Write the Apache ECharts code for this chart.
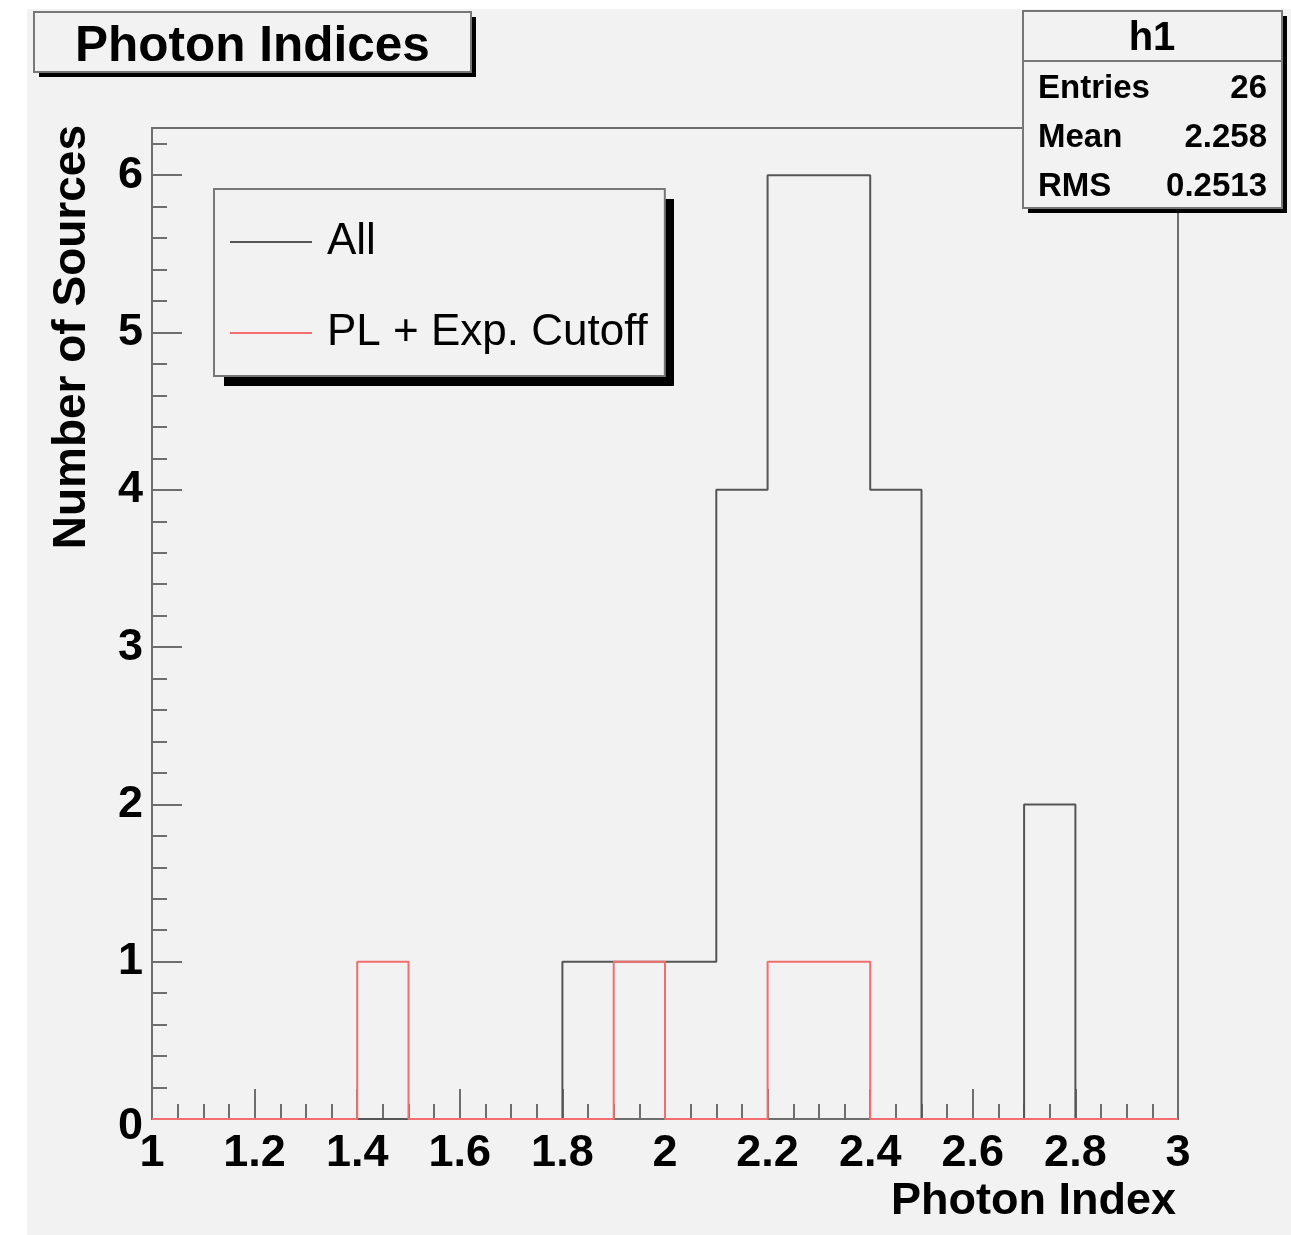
<!DOCTYPE html>
<html>
<head>
<meta charset="utf-8">
<script src="https://cdn.jsdelivr.net/npm/echarts@6/dist/echarts.min.js"></script>
<style>
  html, body { margin: 0; padding: 0; background: #ffffff; }
  #chart { width: 1291px; height: 1235px; }
</style>
</head>
<body>
<div id="chart"></div>
<script>
// Histogram bin edges (20 bins of width 0.1 between 1 and 3)
const binEdges = [1.0, 1.1, 1.2, 1.3, 1.4, 1.5, 1.6, 1.7, 1.8, 1.9, 2.0,
                  2.1, 2.2, 2.3, 2.4, 2.5, 2.6, 2.7, 2.8, 2.9, 3.0];
// Counts per bin
const countsAll    = [0, 0, 0, 0, 0, 0, 0, 0, 1, 1, 1, 4, 6, 6, 4, 0, 0, 2, 0, 0];
const countsCutoff = [0, 0, 0, 0, 1, 0, 0, 0, 0, 1, 0, 0, 1, 1, 0, 0, 0, 0, 0, 0];
const seriesNames  = ['All', 'PL + Exp. Cutoff'];
// Statistics box
const statsTitle  = 'h1';
const statsLabels = ['Entries', 'Mean', 'RMS'];
const statsValues = ['26', '2.258', '0.2513'];
const chartTitle  = 'Photon Indices';
const xTitle = 'Photon Index';
const yTitle = 'Number of Sources';

const FONT = "'Liberation Sans', Arial, Helvetica, sans-serif";
const FRAME = '#6e6e6e';
const BOXLINE = '#777777';
const BG = '#f2f2f2';

// Step outline of a histogram: one point per bin low edge, closed at the last edge
function stepOutline(edges, counts) {
  const pts = counts.map((c, i) => [edges[i], c]);
  pts.push([edges[edges.length - 1], counts[counts.length - 1]]);
  return pts;
}

const chart = echarts.init(document.getElementById('chart'), null, { renderer: 'canvas' });

// Statistics box (drawn above the frame)
const statsRowsY = [89, 138, 187];
const statsGraphics = [
  { type: 'rect', shape: { x: 1028, y: 16, width: 259, height: 197 }, style: { fill: '#000' }, z: 100 },
  { type: 'rect', shape: { x: 1023, y: 11, width: 259, height: 197 }, style: { fill: BG, stroke: BOXLINE, lineWidth: 2 }, z: 101 },
  { type: 'line', shape: { x1: 1023, y1: 61, x2: 1282, y2: 61 }, style: { stroke: BOXLINE, lineWidth: 2 }, z: 102 },
  { type: 'text', x: 1152, y: 39, z: 102,
    style: { text: statsTitle, font: 'bold 40px ' + FONT, fill: '#000', align: 'center', verticalAlign: 'middle' } }
];
statsLabels.forEach((lab, i) => {
  statsGraphics.push({ type: 'text', x: 1038, y: statsRowsY[i], z: 102,
    style: { text: lab, font: 'bold 33px ' + FONT, fill: '#000', align: 'left', verticalAlign: 'middle' } });
  statsGraphics.push({ type: 'text', x: 1267, y: statsRowsY[i], z: 102,
    style: { text: statsValues[i], font: 'bold 33px ' + FONT, fill: '#000', align: 'right', verticalAlign: 'middle' } });
});

const option = {
  backgroundColor: BG,
  animation: false,
  title: {
    text: chartTitle,
    left: 34, top: 12,
    padding: [11, 41, 0, 41],
    backgroundColor: BG,
    borderColor: BOXLINE, borderWidth: 2,
    textStyle: { fontFamily: FONT, fontWeight: 'bold', fontSize: 49.5, lineHeight: 49, color: '#000' },
    z: 10
  },
  legend: {
    data: seriesNames,
    orient: 'vertical',
    left: 214, top: 189,
    padding: [28, 17, 18, 16],
    itemGap: 41,
    icon: 'rect',
    itemWidth: 82, itemHeight: 2,
    backgroundColor: BG,
    borderColor: BOXLINE, borderWidth: 2,
    textStyle: { fontFamily: FONT, fontSize: 44, lineHeight: 50, color: '#000', padding: [0, 0, 0, 10] },
    z: 10
  },
  grid: {
    left: 152, top: 128, right: 113, bottom: 116,
    show: true, borderColor: FRAME, borderWidth: 2, backgroundColor: 'transparent'
  },
  xAxis: {
    type: 'value', min: 1, max: 3, interval: 0.2,
    axisLine: { show: false },
    splitLine: { show: false },
    axisTick: { show: true, inside: true, length: 30, lineStyle: { color: FRAME, width: 2 } },
    minorTick: { show: true, splitNumber: 4, length: 15, lineStyle: { color: FRAME, width: 2 } },
    axisLabel: { fontFamily: FONT, fontWeight: 'bold', fontSize: 45, color: '#000', margin: 12 }
  },
  yAxis: [
    {
      type: 'value', min: 0, max: 6.3, interval: 1,
      axisLine: { show: false },
      splitLine: { show: false },
      axisTick: { show: true, inside: true, length: 30, lineStyle: { color: FRAME, width: 2 } },
      axisLabel: {
        fontFamily: FONT, fontWeight: 'bold', fontSize: 45, color: '#000', margin: 9,
        formatter: v => (v === 0 ? '{z|0}' : (Number.isInteger(v) ? String(v) : '')),
        rich: { z: { fontFamily: FONT, fontWeight: 'bold', fontSize: 45, color: '#000', padding: [16, 0, 0, 0] } }
      }
    },
    {
      // minor ticks every 0.2
      type: 'value', min: 0, max: 6.3, interval: 0.2, position: 'left',
      axisLine: { show: false },
      splitLine: { show: false },
      axisTick: { show: true, inside: true, length: 15, lineStyle: { color: FRAME, width: 2 } },
      axisLabel: { show: false }
    }
  ],
  series: [
    {
      name: seriesNames[0], type: 'line', step: 'end', symbol: 'none', clip: false,
      data: stepOutline(binEdges, countsAll),
      lineStyle: { color: '#555555', width: 2 },
      itemStyle: { color: '#555555' },
      z: 3
    },
    {
      name: seriesNames[1], type: 'line', step: 'end', symbol: 'none', clip: false,
      data: stepOutline(binEdges, countsCutoff),
      lineStyle: { color: '#f36f6f', width: 2 },
      itemStyle: { color: '#f36f6f' },
      z: 4
    }
  ],
  graphic: [
    { type: 'rect', shape: { x: 0, y: 0, width: 1291, height: 9 }, style: { fill: '#fff' }, z: -1 },
    { type: 'rect', shape: { x: 0, y: 0, width: 27, height: 1235 }, style: { fill: '#fff' }, z: -1 },
    // drop shadows of the title and legend boxes
    { type: 'rect', shape: { x: 39, y: 17, width: 437, height: 60 }, style: { fill: '#000' }, z: 1 },
    { type: 'rect', shape: { x: 224, y: 199, width: 450, height: 187 }, style: { fill: '#000' }, z: 1 },
    { type: 'text', x: 1176, y: 1202, z: 50,
      style: { text: xTitle, font: 'bold 45px ' + FONT, fill: '#000', align: 'right', verticalAlign: 'middle' } },
    { type: 'text', x: 72, y: 125, rotation: Math.PI / 2, z: 50,
      style: { text: yTitle, font: 'bold 46px ' + FONT, fill: '#000', align: 'right', verticalAlign: 'middle' } }
  ].concat(statsGraphics)
};

chart.setOption(option);
</script>
</body>
</html>
